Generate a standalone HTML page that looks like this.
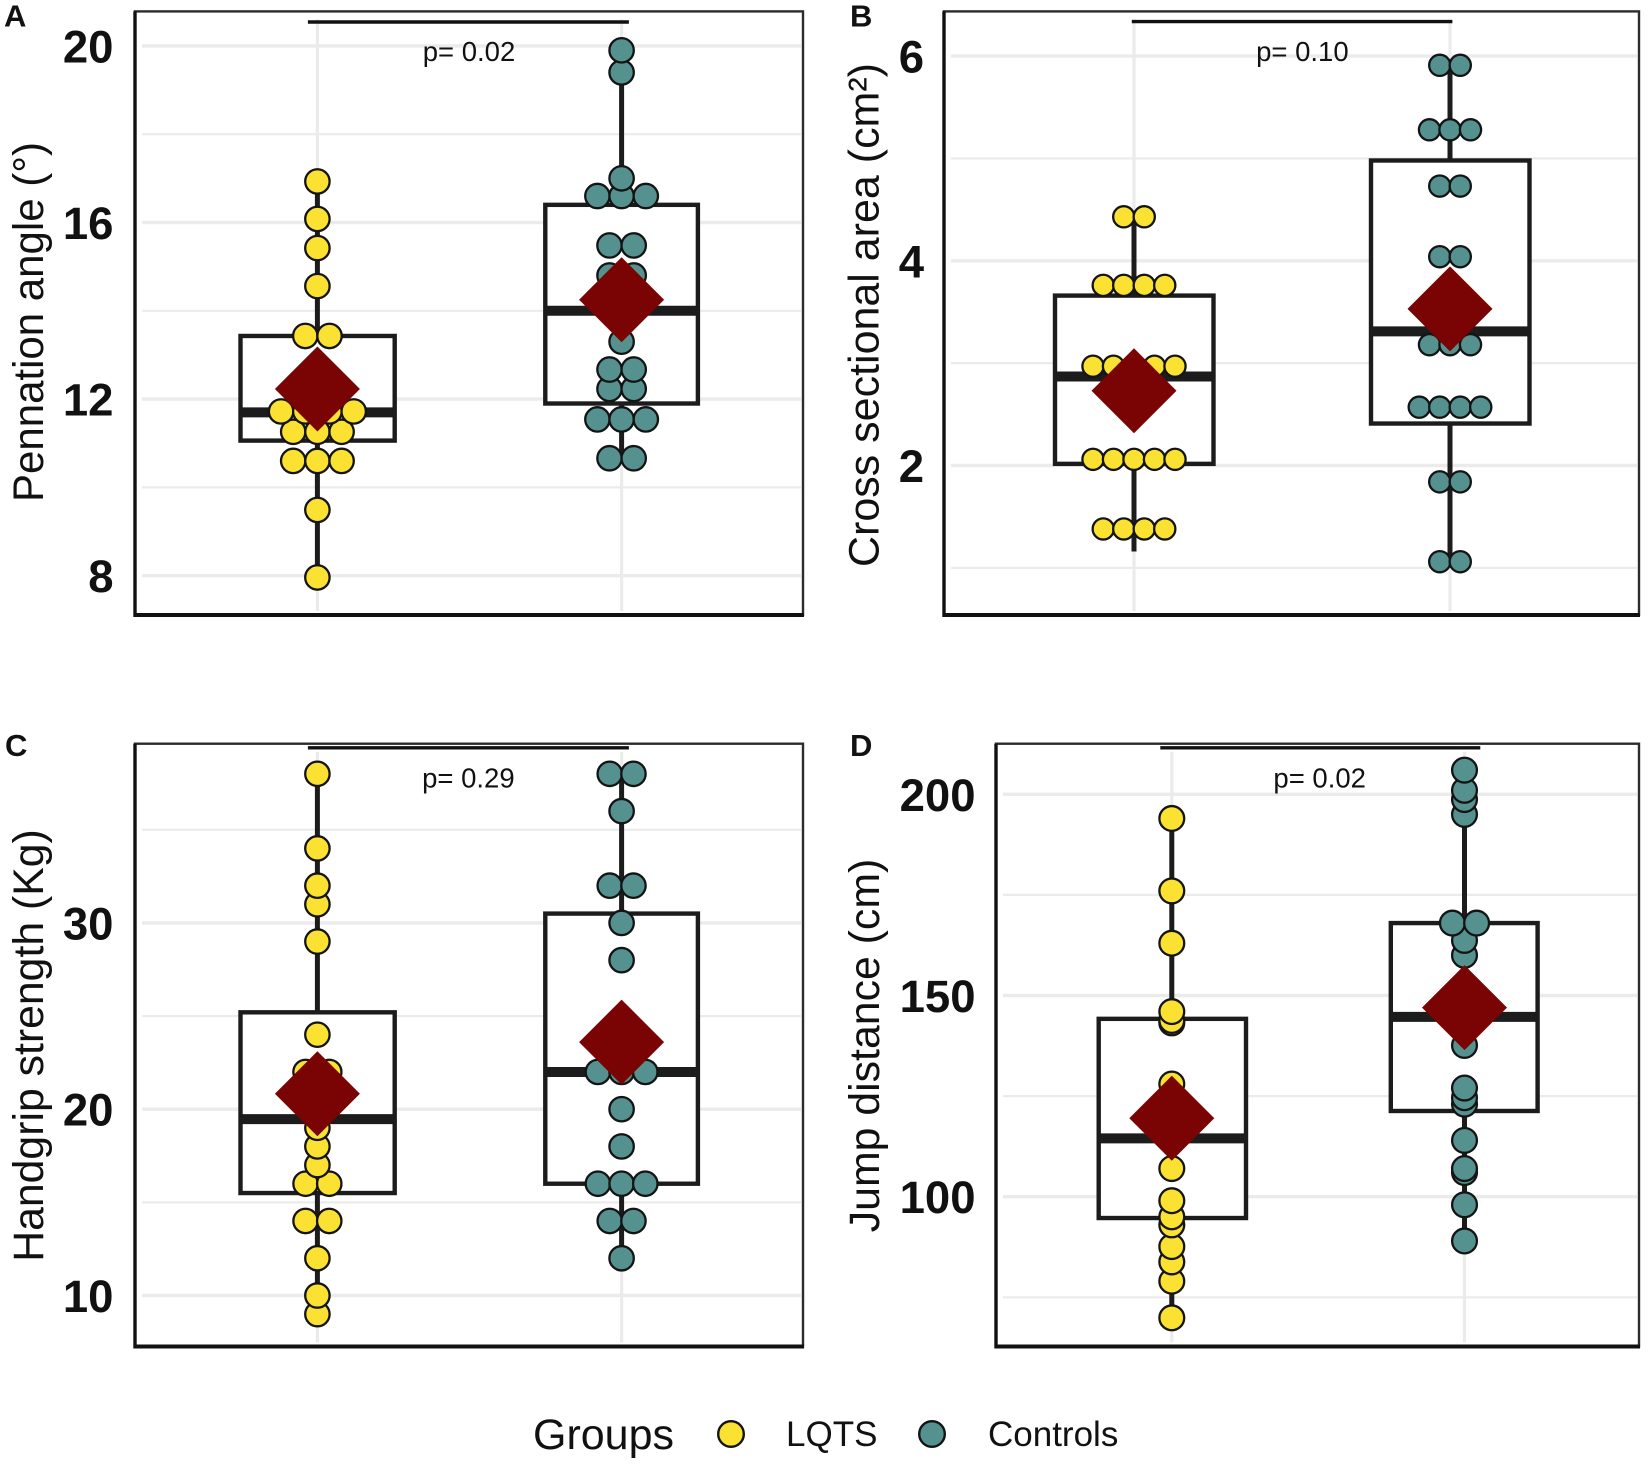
<!DOCTYPE html>
<html lang="en">
<head>
<meta charset="utf-8">
<title>Muscle measures in LQTS and controls</title>
<style>
html,body{margin:0;padding:0;background:#fff;width:1650px;height:1470px;overflow:hidden}
svg{display:block}
text{font-family:"Liberation Sans",sans-serif;fill:#111}
</style>
</head>
<body>
<svg id="figure" xmlns="http://www.w3.org/2000/svg" width="1650" height="1470" viewBox="0 0 1650 1470"></svg>
<script>
// ---------- data ----------
const categories = ['LQTS', 'Controls'];
const panelLetters = ['A', 'B', 'C', 'D'];
const yTitles = ['Pennation angle (°)', 'Cross sectional area (cm²)', 'Handgrip strength (Kg)', 'Jump distance (cm)'];
const pLabels = ['p= 0.02', 'p= 0.10', 'p= 0.29', 'p= 0.02'];

const ticksA = [8, 12, 16, 20];
const minorTicksA = [10, 14, 18];
const lqtsA = [16.93, 16.08, 15.42, 14.56, 13.43, 13.43, 11.72, 11.72, 11.72, 11.72, 11.26, 11.26, 11.26, 10.6, 10.6, 10.6, 9.49, 7.96];
const controlsA = [19.9, 19.4, 17, 16.6, 16.6, 16.6, 15.48, 15.48, 14.8, 14.8, 13.3, 12.67, 12.67, 12.23, 12.23, 11.54, 11.54, 11.54, 10.66, 10.66];
const boxLqtsA = [7.96, 11.06, 11.7, 13.43, 16.93];
const boxControlsA = [10.66, 11.9, 14.0, 16.4, 19.9];
const meansA = [12.23, 14.25];

const ticksB = [2, 4, 6];
const minorTicksB = [1, 3, 5];
const lqtsB = [4.43, 4.43, 3.76, 3.76, 3.76, 3.76, 2.97, 2.97, 2.97, 2.97, 2.97, 2.06, 2.06, 2.06, 2.06, 2.06, 1.38, 1.38, 1.38, 1.38];
const controlsB = [5.91, 5.91, 5.28, 5.28, 5.28, 4.73, 4.73, 4.04, 4.04, 3.18, 3.18, 3.18, 2.57, 2.57, 2.57, 2.57, 1.84, 1.84, 1.06, 1.06];
const boxLqtsB = [1.16, 2.016, 2.87, 3.66, 4.43];
const boxControlsB = [1.06, 2.41, 3.31, 4.98, 5.91];
const meansB = [2.73, 3.53];

const ticksC = [10, 20, 30];
const minorTicksC = [15, 25, 35];
const lqtsC = [38, 34, 32, 31, 29, 24, 22, 22, 19, 18, 17, 16, 16, 14, 14, 12, 10, 9];
const controlsC = [38, 38, 36, 32, 32, 30, 28, 22, 22, 22, 20, 18, 16, 16, 16, 14, 14, 12];
const boxLqtsC = [9, 15.5, 19.47, 25.2, 38];
const boxControlsC = [12, 16, 22, 30.5, 38];
const meansC = [20.83, 23.6];

const ticksD = [100, 150, 200];
const minorTicksD = [75, 125, 175];
const lqtsD = [194, 176, 163, 146, 143.8, 143.2, 128, 107, 99, 95, 93, 87.6, 83.8, 79, 69.9];
const controlsD = [206, 201, 198.7, 195, 168, 168, 163.7, 160, 137.6, 127, 124.6, 123, 114, 107, 106, 98, 89];
const boxLqtsD = [69.9, 94.7, 114.5, 144.2, 194];
const boxControlsD = [89, 121.3, 144.7, 168, 206];
const meansD = [119.5, 147];

// ---------- layout ----------
const panels = [
  { id:'a', ticks:ticksA, minor:minorTicksA, series:[lqtsA, controlsA], boxes:[boxLqtsA, boxControlsA], means:meansA,
    left:135, right:803, top:11.4, bottom:615, refV:[8,20], refPx:[575.7,45.9], cx:[317.4,621.6], boxX:[[240.5,394.7],[545.3,697.9]],
    tickRight:113.5, titleX:43, titleY:322, titleLen:360, bracket:[307.9,628.9,22], pX:469, pY:61.2, r:12.2, step:24.2,
    letterX:4, letterY:26.5 },
  { id:'b', ticks:ticksB, minor:minorTicksB, series:[lqtsB, controlsB], boxes:[boxLqtsB, boxControlsB], means:meansB,
    left:944, right:1639, top:11.4, bottom:615, refV:[2,6], refPx:[465.5,56.1], cx:[1134,1450], boxX:[[1055,1213.5],[1371,1529.5]],
    tickRight:924, titleX:878.7, titleY:315, titleLen:504, bracket:[1131.8,1452.4,21.6], pX:1302.4, pY:61.2, r:10.6, step:20.5,
    letterX:850, letterY:26.5 },
  { id:'c', ticks:ticksC, minor:minorTicksC, series:[lqtsC, controlsC], boxes:[boxLqtsC, boxControlsC], means:meansC,
    left:135, right:803, top:743.7, bottom:1346.5, refV:[10,30], refPx:[1295.5,922.9], cx:[317.4,621.6], boxX:[[240.5,394.7],[545.3,697.9]],
    tickRight:113.5, titleX:43, titleY:1045.5, titleLen:432.6, bracket:[307.9,628.9,747.8], pX:468.4, pY:787.3, r:12.2, step:23.7,
    letterX:5, letterY:756 },
  { id:'d', ticks:ticksD, minor:minorTicksD, series:[lqtsD, controlsD], boxes:[boxLqtsD, boxControlsD], means:meansD,
    left:996, right:1639, top:743.7, bottom:1346.5, refV:[100,200], refPx:[1196.7,794.3], cx:[1171.8,1464.5], boxX:[[1098.7,1246],[1390.8,1537.6]],
    tickRight:975.5, titleX:879, titleY:1045.5, titleLen:373.5, bracket:[1160.3,1480.3,747.8], pX:1319.7, pY:787.3, r:12.4, step:24.2,
    letterX:850, letterY:756 }
];
const fills = ['#fbe232', '#55918e'];
const ink = '#1c1c1c';
const gridColor = '#ebebeb';
const SVGNS = 'http://www.w3.org/2000/svg';
const root = document.getElementById('figure');

function mk(parent, tag, attrs, text) {
  const e = document.createElementNS(SVGNS, tag);
  for (const k in attrs) e.setAttribute(k, attrs[k]);
  if (text !== undefined) e.textContent = text;
  parent.appendChild(e);
  return e;
}
function yScale(p) {
  const k = (p.refPx[1] - p.refPx[0]) / (p.refV[1] - p.refV[0]);
  return v => p.refPx[0] + (v - p.refV[0]) * k;
}

panels.forEach((p, pi) => {
  const y = yScale(p);
  const g = mk(root, 'g', {});
  
  

  // grid
  p.minor.forEach(v => {
    const line = mk(g, 'line', { x1:p.left + 7, x2:p.right - 2, y1:y(v), y2:y(v), stroke:gridColor, 'stroke-width':2.2 });
    
    
  });
  p.ticks.forEach(v => {
    const line = mk(g, 'line', { x1:p.left + 7, x2:p.right - 2, y1:y(v), y2:y(v), stroke:gridColor, 'stroke-width':3.4 });
    
    
  });
  p.cx.forEach(cx => {
    const line = mk(g, 'line', { x1:cx, x2:cx, y1:p.top + 8, y2:p.bottom - 4, stroke:gridColor, 'stroke-width':3.2 });
    
    
  });

  // frame
  const frame = mk(g, 'rect', { x:p.left, y:p.top, width:p.right - p.left, height:p.bottom - p.top, fill:'none', stroke:'#2c2c2c', 'stroke-width':2.4 });
  
  
  const axisL = mk(g, 'line', { x1:p.left, x2:p.left, y1:p.top, y2:p.bottom + 2, stroke:'#111', 'stroke-width':3.4 });
  
  
  const axisB = mk(g, 'line', { x1:p.left, x2:p.right + 1, y1:p.bottom, y2:p.bottom, stroke:'#111', 'stroke-width':4 });
  
  

  // tick labels
  p.ticks.forEach(v => {
    const t = mk(g, 'text', { x:p.tickRight, y:y(v) + 16.5, 'text-anchor':'end', 'font-size':45.5, 'font-weight':'bold' }, String(v));
    
    
  });

  // axis title
  const title = mk(g, 'text', { x:0, y:0, 'text-anchor':'middle', 'font-size':42.5, fill:'#222', textLength:p.titleLen, lengthAdjust:'spacingAndGlyphs',
    transform:'translate(' + p.titleX + ' ' + p.titleY + ') rotate(-90)' }, yTitles[pi]);
  
  

  // panel letter
  const letter = mk(g, 'text', { x:p.letterX, y:p.letterY, 'font-size':31, 'font-weight':'bold' }, panelLetters[pi]);
  
  

  // box plots, whiskers
  p.boxes.forEach((b, i) => {
    const [lo, q1, med, q3, hi] = b;
    const cx = p.cx[i];
    const bx = p.boxX[i];
    const wh = mk(g, 'line', { x1:cx, x2:cx, y1:y(lo), y2:y(hi), stroke:ink, 'stroke-width':5 });
    
    
    const box = mk(g, 'rect', { x:bx[0], y:y(q3), width:bx[1] - bx[0], height:y(q1) - y(q3), fill:'#fff', stroke:ink, 'stroke-width':4.4 });
    
    
    const m = mk(g, 'line', { x1:bx[0], x2:bx[1], y1:y(med), y2:y(med), stroke:ink, 'stroke-width':10 });
    
    
  });

  // dots: equal values sit side by side; higher values are drawn on top
  p.series.forEach((vals, i) => {
    const counts = {};
    vals.forEach(v => { counts[v] = (counts[v] || 0) + 1; });
    const seen = {};
    vals.slice().sort((a, b) => a - b).forEach(v => {
      seen[v] = (seen[v] || 0) + 1;
      const off = (seen[v] - 1 - (counts[v] - 1) / 2) * p.step;
      const c = mk(g, 'circle', { cx:p.cx[i] + off, cy:y(v), r:p.r, fill:fills[i], stroke:'#141414', 'stroke-width':2.3 });
      
      
    });
  });

  // means
  p.means.forEach((v, i) => {
    const cx = p.cx[i], cy = y(v), h = 42.5;
    const d = mk(g, 'polygon', { points:[cx, cy - h, cx + h, cy, cx, cy + h, cx - h, cy].join(' '), fill:'#7a0403' });
    
    
  });

  // significance bracket
  const br = mk(g, 'line', { x1:p.bracket[0], x2:p.bracket[1], y1:p.bracket[2], y2:p.bracket[2], stroke:'#111', 'stroke-width':3.4 });
  
  
  const pt = mk(g, 'text', { x:p.pX, y:p.pY, 'text-anchor':'middle', 'font-size':27.5, fill:'#222' }, pLabels[pi]);
  
  
});

// legend
const legend = mk(root, 'g', {});


const legTitle = mk(legend, 'text', { x:533, y:1449, 'font-size':43 }, 'Groups');


const legDot1 = mk(legend, 'circle', { cx:731, cy:1434, r:12.8, fill:fills[0], stroke:'#141414', 'stroke-width':2.4 });


const legText1 = mk(legend, 'text', { x:786, y:1446, 'font-size':35 }, categories[0]);


const legDot2 = mk(legend, 'circle', { cx:932, cy:1434, r:12.8, fill:fills[1], stroke:'#141414', 'stroke-width':2.4 });


const legText2 = mk(legend, 'text', { x:988, y:1446, 'font-size':35 }, categories[1]);


</script>
</body>
</html>
